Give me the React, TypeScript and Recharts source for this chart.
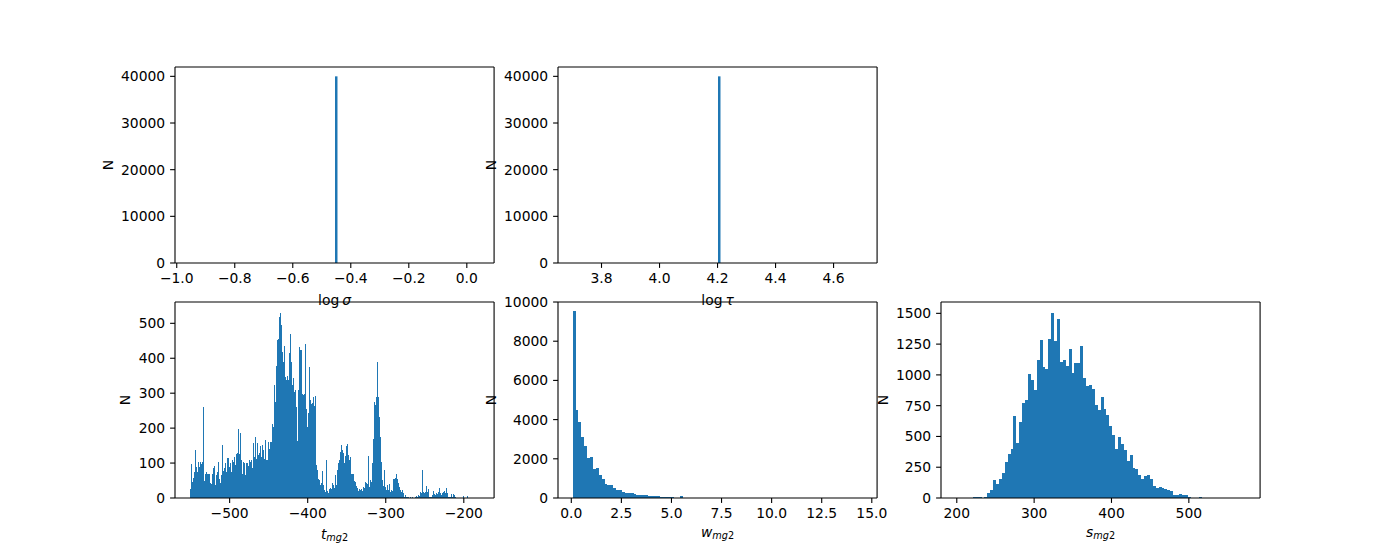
import React from 'react';
import { BarChart, Bar, XAxis, YAxis } from 'recharts';

const BLUE = '#1f77b4';
const FONT = '"DejaVu Sans", sans-serif';
const FS = 13.9;

// top row: every sample falls in a single bin
const SIGMA_BIN = [-0.451];
const SIGMA_N = [40000];
const TAU_BIN = [4.205];
const TAU_N = [40000];

// t_mg2 histogram (bin start, bin width, counts)
const T_START = -551.4;
const T_WIDTH = 1.2858;
const T_N = [
  26, 97, 47, 58, 75, 136, 88, 75, 103, 90,
  104, 96, 104, 260, 49, 70, 73, 69, 69, 69,
  44, 41, 69, 87, 91, 37, 65, 73, 104, 53,
  43, 67, 152, 78, 85, 99, 75, 115, 114, 90,
  99, 75, 109, 103, 118, 94, 125, 128, 198, 126,
  187, 109, 69, 104, 101, 66, 101, 99, 92, 109,
  102, 110, 85, 158, 118,
  175, 113, 156, 123, 128, 150, 118, 151, 137, 113,
  166, 110, 110, 160, 139, 161, 160, 213, 204, 323,
  275, 379, 451, 456, 518, 530, 494, 418, 388, 436,
  347, 337, 350, 337, 416, 470, 390, 323, 343, 304,
  310, 261, 164, 310, 432, 423, 425, 299, 295, 297,
  442, 256, 202, 244, 375, 280, 270, 272, 290, 263,
  291, 94, 80, 53, 51, 37, 44, 78, 36, 23,
  18, 110, 20, 13, 27, 30, 25, 44, 37, 30,
  66, 37, 80, 99, 109, 133, 151, 137, 128, 99,
  120, 149, 154, 122, 110, 118, 70, 70, 69, 50,
  47, 35, 30, 20, 25, 23, 27, 21, 32, 30,
  47, 44, 40, 120, 32, 51, 47, 101, 170, 276,
  267, 288, 389, 290, 233, 176, 104, 51, 34, 80,
  32, 23, 37, 23, 39, 18, 23, 21, 53, 54,
  56, 70, 53, 44, 32, 23, 18, 23, 13, 4,
  9, 2, 3, 2, 0, 4, 0, 3, 0, 1,
  4, 6, 2, 9, 6, 18, 13, 80, 17, 15,
  18, 34, 18, 25, 4, 2, 4, 9, 21, 11,
  9, 15, 11, 18, 28, 13, 9, 15, 18, 21,
  15, 30, 15, 2, 4, 2, 11, 4, 11, 8,
  4, 1, 0, 0, 0, 0, 0, 6, 0, 0,
  0, 6, 0, 0, 0, 0, 0, 0, 0, 0,
  0, 0, 0, 1,
];

// w_mg2 histogram
const W_START = 0.06;
const W_WIDTH = 0.1448;
const W_N = [
  9520, 4471, 3859, 3094, 2635, 2023, 2074, 1462, 1513, 1156,
  952, 731, 680, 646, 510, 391, 391, 323, 255, 255,
  240, 221, 170, 136, 136, 136, 119, 102, 110, 119,
  68, 68, 68, 60, 50, 10, 10, 85, 8, 6,
  5, 4, 4, 3, 2, 2, 2, 1, 1, 1,
  1, 0, 1, 0, 0, 1, 0, 0, 0, 0,
  0, 0, 0, 0, 0, 0, 0, 0, 0, 0,
  0, 0, 0, 0, 0, 0, 0, 0, 0, 0,
  0, 0, 0, 0, 0, 0, 0, 0, 0, 0,
  0, 0, 0, 0, 0, 0, 0, 0, 0, 1,
];

// s_mg2 histogram
const S_START = 198.3;
const S_WIDTH = 3.75;
const S_N = [
  0, 0, 0, 0, 0, 0, 8, 8, 8, 0,
  8, 40, 65, 146, 116, 154, 202, 291, 356, 396,
  663, 445, 615, 769, 793, 1006, 955, 874, 1125, 1286,
  1063, 1044, 1295, 1505, 1278, 1456, 1108, 1117, 1076, 1214,
  1014, 1095, 1095, 1238, 971, 906, 914, 882, 752, 712,
  817, 725, 672, 583, 510, 396, 494, 437, 386, 299,
  348, 245, 235, 186, 154, 178, 186, 154, 97, 84,
  89, 81, 73, 65, 54, 24, 24, 32, 24, 22,
  8, 2, 1, 0, 8, 0, 0, 1, 0, 0,
  0, 0, 0, 0, 0, 0, 0, 0, 0, 1,
];

// tick labels
const TOP_Y_TICKS = [0, 10000, 20000, 30000, 40000];
const SIGMA_X_TICKS = [-1.0, -0.8, -0.6, -0.4, -0.2, 0.0];
const TAU_X_TICKS = [3.8, 4.0, 4.2, 4.4, 4.6];
const T_X_TICKS = [-500, -400, -300, -200];
const T_Y_TICKS = [0, 100, 200, 300, 400, 500];
const W_X_TICKS = [0, 2.5, 5, 7.5, 10, 12.5, 15];
const W_Y_TICKS = [0, 2000, 4000, 6000, 8000, 10000];
const S_X_TICKS = [200, 300, 400, 500];
const S_Y_TICKS = [0, 250, 500, 750, 1000, 1250, 1500];

const minus = (s: string) => s.replace('-', '\u2212');
const hist = (start: number, width: number, counts: number[]) =>
  counts.map((n, i) => ({ x: start + (i + 0.5) * width, n }));
const single = (xs: number[], ns: number[]) => xs.map((x, i) => ({ x, n: ns[i] }));

type Part = { t: string; it?: boolean; sub?: boolean; dx?: number; dy?: number };

const XLab = (props: any) => {
  const vb = props.viewBox || { x: 0, y: 0, width: 0 };
  const { parts, off } = props;
  return (
    <text x={vb.x + vb.width / 2} y={vb.y + off} textAnchor="middle" fontFamily={FONT} fontSize={FS} fill="#000">
      {parts.map((p: Part, i: number) => (
        <tspan key={i} fontStyle={p.it ? 'italic' : 'normal'} fontSize={p.sub ? FS * 0.7 : FS} dx={p.dx} dy={p.dy}>
          {p.t}
        </tspan>
      ))}
    </text>
  );
};

const YLab = (props: any) => {
  const vb = props.viewBox || { x: 0, y: 0, width: 0, height: 0 };
  const cx = vb.x + vb.width + props.dxN;
  const cy = vb.y + vb.height / 2;
  return (
    <text x={cx} y={cy} dy={5} textAnchor="middle" transform={`rotate(-90 ${cx} ${cy})`}
      fontFamily={FONT} fontSize={FS} fill="#000">N</text>
  );
};

const W = 319.1;
const H = 196;
const PAD_L = 80;
const PAD_R = 10;
const PAD_T = 10;
const PAD_B = 50;
const axisStyle = { stroke: '#000', strokeWidth: 1.1 };
const tickStyle = { fill: '#000', fontSize: FS, fontFamily: FONT };

function Panel(p: {
  left: number; top: number; data: { x: number; n: number }[];
  xDomain: number[]; xTicks: number[]; xFmt: (v: number) => string;
  yDomain: number[]; yTicks: number[]; label: Part[]; labelOff: number; dxN: number;
  barSize?: number;
}) {
  return (
    <div style={{ position: 'absolute', left: p.left - PAD_L, top: p.top - PAD_T }}>
      <BarChart width={W + PAD_L + PAD_R} height={H + PAD_T + PAD_B} data={p.data}
        margin={{ top: PAD_T, right: PAD_R, left: 0, bottom: 0 }} barCategoryGap={0} barGap={0}>
        <XAxis dataKey="x" type="number" domain={p.xDomain} ticks={p.xTicks} interval={0}
          tickFormatter={p.xFmt} allowDataOverflow height={PAD_B} axisLine={axisStyle}
          tickLine={axisStyle} tickSize={4.9} tickMargin={4.9} tick={tickStyle}
          label={(lp: any) => <XLab {...lp} parts={p.label} off={p.labelOff} />} />
        <XAxis xAxisId="top" orientation="top" type="number" domain={p.xDomain} allowDataOverflow
          height={0.01} tick={false} tickLine={false} axisLine={axisStyle} />
        <YAxis type="number" domain={p.yDomain} ticks={p.yTicks} interval={0} allowDataOverflow
          width={PAD_L} axisLine={axisStyle} tickLine={axisStyle} tickSize={4.9} tickMargin={4.9}
          tick={tickStyle} label={(lp: any) => <YLab {...lp} dxN={p.dxN} />} />
        <YAxis yAxisId="right" orientation="right" width={0.01} tick={false} tickLine={false} axisLine={axisStyle} />
        <Bar dataKey="n" fill={BLUE} isAnimationActive={false} barSize={p.barSize}
          shapeRendering={p.barSize ? undefined : 'crispEdges'} />
      </BarChart>
    </div>
  );
}

const ROW1 = 67.2;
const ROW2 = 302.4;
const COL1 = 175;
const COL2 = 557.9;
const COL3 = 940.9;

export default function App() {
  return (
    <div style={{ position: 'absolute', left: 0, top: 0, width: 1400, height: 560, background: '#fff' }}>
      <Panel left={COL1} top={ROW1} data={single(SIGMA_BIN, SIGMA_N)} xDomain={[-1.006, 0.094]}
        xTicks={SIGMA_X_TICKS} xFmt={(v) => minus(v.toFixed(1))} yDomain={[0, 42000]} yTicks={TOP_Y_TICKS}
        label={[{ t: 'log' }, { t: '\u03c3', it: true, dx: 3 }]} labelOff={42.5} dxN={-67} barSize={2.5} />
      <Panel left={COL2} top={ROW1} data={single(TAU_BIN, TAU_N)} xDomain={[3.65, 4.75]}
        xTicks={TAU_X_TICKS} xFmt={(v) => v.toFixed(1)} yDomain={[0, 42000]} yTicks={TOP_Y_TICKS}
        label={[{ t: 'log' }, { t: '\u03c4', it: true, dx: 3 }]} labelOff={42.5} dxN={-67} barSize={2.5} />
      <Panel left={COL1} top={ROW2} data={hist(T_START, T_WIDTH, T_N)} xDomain={[-570.0, -161.2]}
        xTicks={T_X_TICKS} xFmt={(v) => minus(String(v))} yDomain={[0, 561]} yTicks={T_Y_TICKS}
        label={[{ t: 't', it: true }, { t: 'mg', it: true, sub: true, dy: 2 }, { t: '2', sub: true }]}
        labelOff={41.5} dxN={-49.5} />
      <Panel left={COL2} top={ROW2} data={hist(W_START, W_WIDTH, W_N)} xDomain={[-0.664, 15.264]}
        xTicks={W_X_TICKS} xFmt={(v) => v.toFixed(1)} yDomain={[0, 10000]} yTicks={W_Y_TICKS}
        label={[{ t: 'w', it: true }, { t: 'mg', it: true, sub: true, dy: 2 }, { t: '2', sub: true }]}
        labelOff={39.1} dxN={-67} />
      <Panel left={COL3} top={ROW2} data={hist(S_START, S_WIDTH, S_N)} xDomain={[179.6, 592.1]}
        xTicks={S_X_TICKS} xFmt={(v) => String(v)} yDomain={[0, 1592]} yTicks={S_Y_TICKS}
        label={[{ t: 's', it: true }, { t: 'mg', it: true, sub: true, dy: 2 }, { t: '2', sub: true }]}
        labelOff={39.1} dxN={-58.2} />
    </div>
  );
}
